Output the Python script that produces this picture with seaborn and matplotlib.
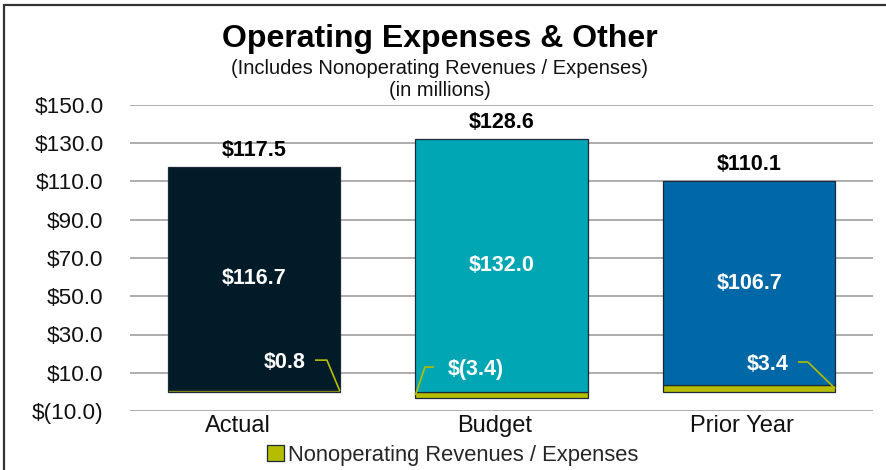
import matplotlib
matplotlib.use("Agg")
import matplotlib.pyplot as plt
from matplotlib.ticker import FuncFormatter
from matplotlib.lines import Line2D
from matplotlib.patches import Patch
import matplotlib.transforms as mtransforms
import seaborn as sns
import pandas as pd

# ---- data (USD millions) ----
categories = ["Actual", "Budget", "Prior Year"]
operating = [116.7, 132.0, 106.7]
nonoperating = [0.8, -3.4, 3.4]
totals = [117.5, 128.6, 110.1]
bar_colors = ["#021B28", "#00A6B4", "#0068A7"]
nonop_color = "#B5BD00"
legend_label = "Nonoperating Revenues / Expenses"
y_ticks = [-10, 10, 30, 50, 70, 90, 110, 130, 150]

sns.set_theme(style="white")
plt.rcParams["font.family"] = ["Liberation Sans", "DejaVu Sans"]

fig = plt.figure(figsize=(8.87, 4.70), dpi=100)
ax = fig.add_axes([130 / 887, 1 - 411 / 470, 743 / 887, 306 / 470])

bar_w = 0.695
edge = "#1B2A36"

# Operating segment: sits on top of a positive nonoperating piece,
# or starts at zero when the nonoperating part is negative.
seg_bottom = [max(n, 0) for n in nonoperating]
df = pd.DataFrame({"category": categories, "nonop": nonoperating})

sns.barplot(data=df, x="category", y="nonop", color=nonop_color,
            saturation=1, width=bar_w, edgecolor=edge, linewidth=0.9,
            errorbar=None, ax=ax, zorder=3)
for i, (h, b, c) in enumerate(zip(operating, seg_bottom, bar_colors)):
    ax.bar(i, h, bottom=b, width=bar_w, color=c, edgecolor=edge,
           linewidth=0.9, zorder=3)

ax.set_xlim(-0.5, 2.5)
ax.set_ylim(-10, 150)
ax.set_yticks(y_ticks)


def money(v, _pos=None):
    return f"$({abs(v):.1f})" if v < 0 else f"${v:.1f}"


ax.yaxis.set_major_formatter(FuncFormatter(money))
ax.grid(axis="y", color="#A0A0A0", linewidth=1.2, zorder=0)
ax.grid(axis="x", visible=False)
for s in ax.spines.values():
    s.set_visible(False)
ax.tick_params(axis="y", length=0, pad=19, labelsize=16.2, colors="#111111")
ax.tick_params(axis="x", length=0, pad=3, labelsize=17, colors="#111111")
ax.set_xlabel("")
ax.set_ylabel("")
ax.set_xticks(range(len(categories)))
ax.set_xticklabels(categories)
shifts = [-16, -7, -7]
for lab, dx in zip(ax.get_xticklabels(), shifts):
    lab.set_transform(lab.get_transform() +
                      mtransforms.ScaledTranslation(dx / 100, 0, fig.dpi_scale_trans))

# totals above the bars
for i, t in enumerate(totals):
    top = seg_bottom[i] + operating[i]
    ax.annotate(money(t), (i, top), xytext=(0, 8), textcoords="offset points",
                ha="center", va="baseline", fontsize=15.5, fontweight="bold",
                color="#000000", zorder=5)

# operating values centred in their segment
for i, v in enumerate(operating):
    mid = seg_bottom[i] + v / 2
    ax.text(i, mid, money(v), ha="center", va="center", fontsize=15.5,
            fontweight="bold", color="white", zorder=5)

# nonoperating values with leader lines to the thin segment
label_dx = [0.126, -0.103, 0.074]
label_y = [15.2, 11.8, 14.4]
leader_x = [(0.247, 0.295), (-0.273, -0.309), (0.197, 0.237)]
leader_y = [16.6, 13.0, 15.6]
sides = [1, -1, 1]
for i, v in enumerate(nonoperating):
    ax.text(i + label_dx[i], label_y[i], money(v), ha="center", va="center",
            fontsize=15.5, fontweight="bold", color="white", zorder=6)
    xs = [i + leader_x[i][0], i + leader_x[i][1], i + sides[i] * bar_w / 2]
    ys = [leader_y[i], leader_y[i], v / 2]
    ax.plot(xs, ys, color=nonop_color, linewidth=1.2, zorder=6,
            solid_capstyle="butt")

# titles
fig.text(440 / 887, 1 - 39 / 470, "Operating Expenses & Other", ha="center",
         va="center", fontsize=23, fontweight="bold", color="#000000")
fig.text(440 / 887, 1 - 68 / 470, "(Includes Nonoperating Revenues / Expenses)",
         ha="center", va="center", fontsize=14.5, color="#111111")
fig.text(440 / 887, 1 - 90 / 470, "(in millions)", ha="center", va="center",
         fontsize=14.5, color="#111111")

# legend
handle = Patch(facecolor=nonop_color, edgecolor=edge, linewidth=0.9)
fig.legend([handle], [legend_label], loc="center",
           bbox_to_anchor=(453 / 887, 1 - 455 / 470), frameon=False,
           fontsize=15.8, handlelength=0.75, handleheight=0.75,
           handletextpad=0.2, borderpad=0, borderaxespad=0)

# outer chart border (left and top)
fig.add_artist(Line2D([4.5 / 887, 4.5 / 887], [0, 1 - 4.5 / 470],
                      transform=fig.transFigure, color="#333333", linewidth=1.6))
fig.add_artist(Line2D([4.5 / 887, 1], [1 - 4.5 / 470, 1 - 4.5 / 470],
                      transform=fig.transFigure, color="#333333", linewidth=1.6))

fig.savefig("out.png", dpi=100)
